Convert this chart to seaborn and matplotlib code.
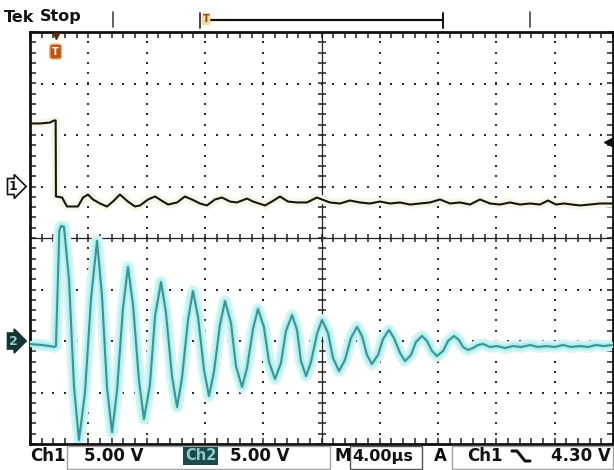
import numpy as np
import pandas as pd
import matplotlib
matplotlib.use("Agg")
import matplotlib.pyplot as plt
import matplotlib.transforms as mtransforms
from matplotlib.patches import Rectangle
from matplotlib.lines import Line2D
import seaborn as sns

# ---------------- data ----------------
# time in microseconds (4 us/div, 10 div), voltages in volts (5 V/div)
ch1_t = [0, 0.69, 1.37, 1.65, 1.76, 1.78, 2.20, 2.54, 2.88, 3.29, 3.64, 3.98, 4.32, 4.80, 5.28,
         5.69, 6.17, 6.72, 7.20, 7.55, 8.10, 8.58, 9.13, 9.47, 10.09, 10.63, 11.11, 11.66, 12.14,
         12.69, 13.17, 13.72, 14.20, 14.89, 15.30, 16.12, 16.60, 17.15, 17.70, 18.32, 19.00, 19.69,
         20.03, 20.58, 21.27, 21.95, 22.64, 23.33, 24.01, 24.70, 25.39, 26.07, 26.76, 27.44, 28.13,
         28.82, 29.50, 30.19, 30.87, 31.56, 32.25, 32.93, 33.62, 34.31, 34.99, 35.54, 36.09, 36.64,
         37.19, 37.74, 38.42, 39.11, 39.93]
ch1_v = [6.12, 6.12, 6.21, 6.41, 6.41, -0.97, -1.07, -1.94, -1.94, -1.94, -1.07, -0.78, -1.26,
         -1.65, -1.94, -1.46, -0.78, -1.46, -1.94, -1.84, -1.26, -0.97, -1.46, -1.75, -1.55, -0.97,
         -1.26, -1.65, -1.84, -1.26, -1.07, -1.46, -1.55, -1.17, -1.46, -1.84, -1.46, -0.97, -1.46,
         -1.55, -1.55, -1.07, -1.26, -1.55, -1.65, -1.36, -1.55, -1.65, -1.46, -1.65, -1.55, -1.75,
         -1.65, -1.55, -1.26, -1.65, -1.55, -1.75, -1.26, -1.65, -1.75, -1.55, -1.75, -1.65, -1.75,
         -1.36, -1.75, -1.65, -1.75, -1.84, -1.75, -1.65, -1.65]

ch2_t = [0, 0.82, 1.37, 1.65, 1.78, 2.01, 2.13, 2.33, 2.68, 3.02, 3.36, 3.77, 4.19, 4.60, 4.94,
         5.28, 5.63, 5.97, 6.38, 6.72, 7.07, 7.48, 7.82, 8.23, 8.58, 8.99, 9.33, 9.74, 10.09, 10.43,
         10.84, 11.18, 11.53, 11.94, 12.28, 12.62, 13.03, 13.38, 13.79, 14.13, 14.55, 14.89, 15.30,
         15.64, 16.05, 16.40, 16.81, 17.22, 17.56, 17.98, 18.32, 18.59, 18.94, 19.28, 19.69, 20.03,
         20.45, 20.79, 21.20, 21.61, 22.02, 22.44, 22.78, 23.12, 23.46, 23.88, 24.22, 24.63, 24.97,
         25.39, 25.73, 26.14, 26.48, 26.90, 27.24, 27.58, 27.92, 28.34, 28.68, 29.09, 29.43, 29.71,
         30.05, 30.39, 30.74, 31.08, 31.56, 32.04, 32.59, 33.14, 33.69, 34.31, 34.85, 35.40, 36.02,
         36.57, 37.12, 37.74, 38.28, 38.83, 39.38, 39.93]
ch2_v = [-0.29, -0.39, -0.49, -0.58, -0.49, 10.7, 11.17, 11.07, 5.92, -4.47, -9.61, -5.05, 4.17,
         9.71, 4.37, -4.47, -8.84, -4.85, 3.20, 7.18, 3.50, -3.88, -7.57, -4.27, 2.43, 5.73, 2.72,
         -3.40, -6.41, -3.59, 2.04, 4.85, 2.33, -2.82, -5.34, -3.01, 1.55, 3.88, 1.75, -2.43, -4.47,
         -2.62, 1.17, 3.11, 1.36, -2.04, -3.69, -2.14, 0.97, 2.52, 1.07, -1.94, -3.40, -2.04, 0.68,
         2.04, 0.78, -1.65, -2.91, -1.84, 0.29, 1.36, 0.49, -1.36, -2.23, -1.36, 0.19, 1.07, 0.29,
         -1.17, -1.94, -1.36, -0.10, 0.49, 0.00, -0.97, -1.46, -0.97, 0.00, 0.49, 0.10, -0.58, -0.87,
         -0.68, -0.39, -0.29, -0.58, -0.49, -0.68, -0.49, -0.58, -0.39, -0.58, -0.49, -0.58, -0.39,
         -0.58, -0.49, -0.58, -0.39, -0.49, -0.39]

volts_per_div = [5.0, 5.0]       # Ch1, Ch2
ground_div = [1.0, -2.0]         # channel ground markers (divisions from centre)
time_per_div = 4.0               # us/div
trigger_time = 1.76              # us
trigger_level = 4.30             # V on Ch1

status_labels = ["Ch1", "5.00 V", "Ch2", "5.00 V", "M", "4.00\u00b5s", "A", "Ch1", "4.30 V"]

# ---------------- build frames ----------------
df1 = pd.DataFrame({"t": ch1_t, "v": ch1_v})
df1["div"] = df1["v"] / volts_per_div[0] + ground_div[0]
df2 = pd.DataFrame({"t": ch2_t, "v": ch2_v})
df2["div"] = df2["v"] / volts_per_div[1] + ground_div[1]

sns.set_style("white")
plt.rcParams["font.family"] = ["DejaVu Sans"]

W, H = 614, 470
fig = plt.figure(figsize=(W / 100, H / 100), dpi=100)
fig.patch.set_facecolor("white")
ax = fig.add_axes([30 / W, 26 / H, 583 / W, 412 / H])
ax.set_facecolor("white")

xmax = 10 * time_per_div
ax.set_xlim(0, xmax)
ax.set_ylim(-4, 4)

# graticule dots
minor_x = np.arange(0, xmax + 1e-6, time_per_div / 5)
minor_y = np.arange(-4, 4 + 1e-6, 0.2)
for k in range(1, 10):
    if k == 5:
        continue
    xv = k * time_per_div
    ax.scatter(np.full(minor_y.size, xv), minor_y, s=2.5, marker="s", color="#2a2a2a",
               linewidths=0, zorder=1)
for j in range(-3, 4):
    if j == 0:
        continue
    ax.scatter(minor_x, np.full(minor_x.size, j), s=2.5, marker="s", color="#2a2a2a",
               linewidths=0, zorder=1)

# centre cross with ticks
ax.axhline(0, color="#222222", lw=0.9, zorder=1)
ax.axvline(xmax / 2, color="#222222", lw=0.9, zorder=1)
ax.plot(minor_x, np.zeros(minor_x.size), ls="none", marker="|", ms=6, mew=1.1,
        color="#222222", zorder=1)
ax.plot(np.full(minor_y.size, xmax / 2), minor_y, ls="none", marker="_", ms=6, mew=1.1,
        color="#222222", zorder=1)

# border ticks
ax.set_xticks(minor_x)
ax.set_yticks(minor_y)
ax.tick_params(axis="both", which="both", direction="in", length=4, width=1.1,
               color="#222222", top=True, right=True, bottom=True, left=True,
               labelbottom=False, labelleft=False)
for sp in ax.spines.values():
    sp.set_visible(True)
    sp.set_color("#111111")
    sp.set_linewidth(2.0)

# traces with persistence glow
sns.lineplot(data=df1, x="t", y="div", estimator=None, sort=False, color="#f7f6e4",
             lw=6, ax=ax, zorder=2, legend=False)
sns.lineplot(data=df2, x="t", y="div", estimator=None, sort=False, color="#d2f6f6",
             lw=8.5, ax=ax, zorder=2, legend=False)
sns.lineplot(data=df2, x="t", y="div", estimator=None, sort=False, color="#b2eeee",
             lw=4.5, ax=ax, zorder=3, legend=False)
sns.lineplot(data=df1, x="t", y="div", estimator=None, sort=False, color="#161616",
             lw=1.5, ax=ax, zorder=4, legend=False)
sns.lineplot(data=df2, x="t", y="div", estimator=None, sort=False, color="#3a9494",
             lw=1.5, ax=ax, zorder=4, legend=False)
ax.set_xlabel("")
ax.set_ylabel("")

# trigger level arrow (right) and trigger position marker (top)
trig_div = trigger_level / volts_per_div[0] + ground_div[0]
ax.plot([xmax - 0.25], [trig_div], marker="<", ms=7, color="#111111", clip_on=False, zorder=6)
ax.plot([trigger_time], [3.93], marker="v", ms=4, color="#5a2a10", clip_on=False, zorder=6)
ax.text(trigger_time, 3.62, "T", ha="center", va="center", color="white", fontsize=7,
        fontweight="bold", zorder=7,
        bbox=dict(boxstyle="round,pad=0.25", fc="#b8541c", ec="#f0b070", lw=1.0))

# channel ground markers (left)
blend = mtransforms.blended_transform_factory(fig.transFigure, ax.transData)
ax.text(9 / W, ground_div[0], "1", transform=blend, ha="left", va="center", fontsize=9,
        fontweight="bold", color="#111111", clip_on=False,
        bbox=dict(boxstyle="rarrow,pad=0.12", fc="white", ec="#111111", lw=1.2))
ax.text(9 / W, ground_div[1], "2", transform=blend, ha="left", va="center", fontsize=9,
        fontweight="bold", color="#9cc8c8", clip_on=False,
        bbox=dict(boxstyle="rarrow,pad=0.12", fc="#163434", ec="#163434", lw=1.2))


def P(x, y):
    return (x / W, 1 - y / H)


# header
fig.text(*P(4, 17), "Tek", ha="left", va="center", fontsize=11.5, fontweight="heavy",
         color="#111111")
fig.text(*P(40, 17), "Stop", ha="left", va="center", fontsize=11.5, fontweight="bold",
         color="#111111")
for xs in (113, 530):
    fig.add_artist(Line2D([xs / W, xs / W], [1 - 12 / H, 1 - 27 / H], color="#555555", lw=1.3))
fig.add_artist(Line2D([205 / W, 443 / W], [1 - 20 / H, 1 - 20 / H], color="#111111", lw=1.6))
fig.add_artist(Line2D([443 / W, 443 / W], [1 - 13 / H, 1 - 28 / H], color="#111111", lw=1.4))
fig.add_artist(Line2D([200 / W, 200 / W], [1 - 13 / H, 1 - 28 / H], color="#444444", lw=1.4))
fig.text(*P(206, 19), "T", ha="center", va="center", fontsize=7, fontweight="bold",
         color="#8a4a10",
         bbox=dict(boxstyle="round,pad=0.1", fc="#f6d9a0", ec="none"))

# status bar boxes
for (x0, x1, ec) in ((67, 330, "#a0a0a0"), (350, 422, "#555555"), (452, 613, "#a0a0a0")):
    fig.add_artist(Rectangle((x0 / W, 1 - 469 / H), (x1 - x0) / W, 23 / H,
                             transform=fig.transFigure, fill=False, ec=ec, lw=1.0))

ty = 456
fs = 12
fig.text(*P(30, ty), status_labels[0], ha="left", va="center", fontsize=fs, fontweight="bold",
         color="#111111")
fig.text(*P(84, ty), status_labels[1], ha="left", va="center", fontsize=fs, fontweight="bold",
         color="#111111")
fig.text(*P(185, ty), status_labels[2], ha="left", va="center", fontsize=fs - 1.5,
         fontweight="bold", color="#8ccccc",
         bbox=dict(boxstyle="square,pad=0.12", fc="#1d4a4a", ec="none"))
fig.text(*P(230, ty), status_labels[3], ha="left", va="center", fontsize=fs, fontweight="bold",
         color="#111111")
fig.text(*P(334, ty), status_labels[4], ha="left", va="center", fontsize=fs, fontweight="bold",
         color="#111111")
fig.text(*P(352, ty), status_labels[5], ha="left", va="center", fontsize=fs - 0.5,
         fontweight="bold", color="#111111")
fig.text(*P(434, ty), status_labels[6], ha="left", va="center", fontsize=fs, fontweight="bold",
         color="#111111")
fig.text(*P(467, ty), status_labels[7], ha="left", va="center", fontsize=fs, fontweight="bold",
         color="#111111")
fig.text(*P(611, ty), status_labels[8], ha="right", va="center", fontsize=fs, fontweight="bold",
         color="#111111")
# falling-slope icon
fig.add_artist(Line2D([512 / W, 517 / W, 525 / W, 530 / W],
                      [1 - 451 / H, 1 - 451 / H, 1 - 461 / H, 1 - 461 / H],
                      color="#111111", lw=2.2))

fig.savefig("out.png", dpi=100, facecolor="white")
